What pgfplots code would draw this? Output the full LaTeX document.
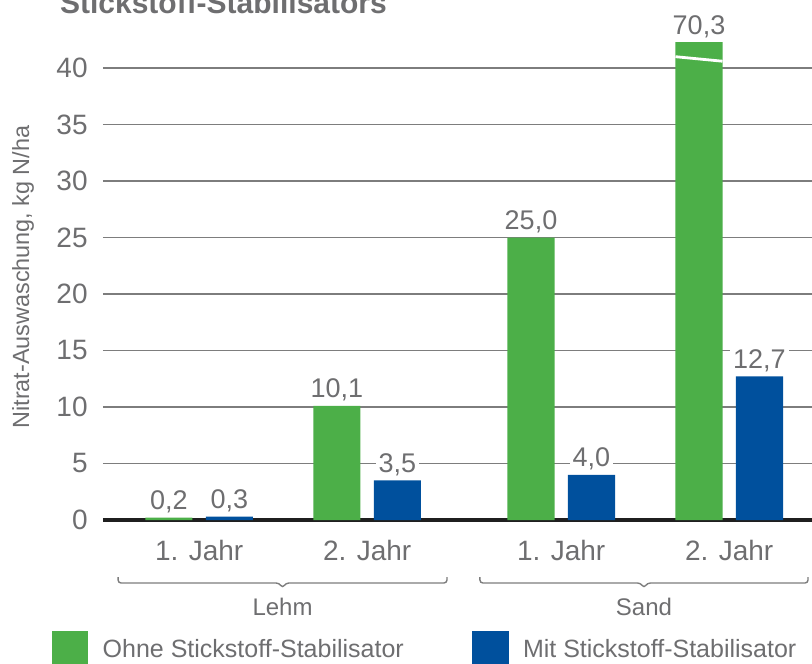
\documentclass[border=0pt]{standalone}
\usepackage{fontspec}
\setmainfont{Liberation Sans}
\usepackage{pgfplots}
\pgfplotsset{compat=1.18}
\definecolor{cgreen}{RGB}{76,175,72}
\definecolor{cblue}{RGB}{0,80,157}
\definecolor{tgray}{RGB}{110,110,112}
\definecolor{ggray}{RGB}{125,125,125}
\begin{document}
\begin{tikzpicture}
\begin{axis}[
  scale only axis, width=358.9pt, height=242.95pt,
  xmin=-0.5726, xmax=3.70, ymin=0, ymax=43,
  ybar, bar width=0.28, bar shift=0pt,
  clip=false,
  separate axis lines, axis x line*=bottom, axis y line*=left,
  x axis line style={draw=black!88, line width=2pt, -},
  y axis line style={draw=none},
  major tick length=0pt,
  ytick={0,5,...,40},
  ymajorgrids, grid style={ggray, line width=0.6pt},
  xtick={0,1,2.155,3.155}, xticklabels={1. Jahr,2. Jahr,1. Jahr,2. Jahr},
  /pgf/number format/assume math mode=true,
  yticklabel style={font=\fontsize{14}{16}\selectfont, text=tgray, inner sep=0pt, anchor=east, xshift=-7.5pt},
  xticklabel style={font=\fontsize{14}{16}\selectfont, text=tgray, inner sep=0pt, anchor=base, yshift=-20pt},
  every axis y label/.style={at={([xshift=-40pt]rel axis cs:0,0.5)}, rotate=90, anchor=center, font=\fontsize{11.7}{14}\selectfont, text=tgray},
  ylabel={Nitrat-Auswaschung, kg N/ha},
  legend image code/.code={\fill[#1] (0pt,-8.5pt) rectangle (18.3pt,9.8pt);},
  legend columns=2, legend cell align=left,
  legend style={at={(rel axis cs:0,0)}, anchor=north west, xshift=-25.65pt, yshift=-55.35pt,
    draw=none, fill=none, inner sep=0pt, outer sep=0pt,
    font=\fontsize{12.5}{15}\selectfont, text=tgray,
    nodes={inner sep=0pt},
    /tikz/every odd column/.append style={column sep=7.2pt},
    /tikz/every even column/.append style={column sep=0pt}},
  nodes near coords style={font=\fontsize{13.5}{16}\selectfont, text=tgray, anchor=base, yshift=4pt, inner ysep=0pt, inner xsep=1.5pt, fill=white},
]
\addplot[fill=cgreen, draw=none, nodes near coords, point meta=explicit symbolic]
  table[x=x, y=y, meta=lab] {
x y lab
-0.18 0.2 0,2
0.82 10.1 10,1
1.975 25.0 25,0
2.975 42.3 70,3
};
\addlegendentry{\makebox[184.65pt][l]{Ohne Stickstoff-Stabilisator}}
\addplot[fill=cblue, draw=none, nodes near coords, point meta=explicit symbolic]
  table[x=x, y=y, meta=lab] {
x y lab
0.18 0.3 0,3
1.18 3.5 3,5
2.335 4.0 4,0
3.335 12.7 12,7
};
\addlegendentry{Mit Stickstoff-Stabilisator}
\addplot[sharp plot, white, line width=1.4pt, forget plot] coordinates {(2.835,41.0) (3.115,40.6)};
\draw[ggray, line width=0.7pt, rounded corners=1.5pt]
  ([yshift=-28.5pt]axis cs:-0.483,0) -- ([yshift=-31.5pt]axis cs:-0.483,0)
  -- ([yshift=-31.5pt]axis cs:0.476,0) -- ([yshift=-34pt]axis cs:0.496,0)
  -- ([yshift=-31.5pt]axis cs:0.516,0) -- ([yshift=-31.5pt]axis cs:1.475,0)
  -- ([yshift=-28.5pt]axis cs:1.475,0);
\draw[ggray, line width=0.7pt, rounded corners=1.5pt]
  ([yshift=-28.5pt]axis cs:1.671,0) -- ([yshift=-31.5pt]axis cs:1.671,0)
  -- ([yshift=-31.5pt]axis cs:2.6275,0) -- ([yshift=-34pt]axis cs:2.6475,0)
  -- ([yshift=-31.5pt]axis cs:2.6675,0) -- ([yshift=-31.5pt]axis cs:3.624,0)
  -- ([yshift=-28.5pt]axis cs:3.624,0);
\node[font=\fontsize{12}{14}\selectfont, text=tgray, anchor=base] at ([yshift=-47.5pt]axis cs:0.496,0) {Lehm};
\node[font=\fontsize{12}{14}\selectfont, text=tgray, anchor=base] at ([yshift=-47.5pt]axis cs:2.6475,0) {Sand};
\coordinate (O) at (rel axis cs:0,0);
\end{axis}
\node[anchor=base west, font=\bfseries\fontsize{15}{18}\selectfont, text=tgray] at ([shift={(-25pt,253pt)}]O) {Stickstoff-Stabilisators};
\pgfresetboundingbox
\path[use as bounding box] ([shift={(-51.5pt,-71.5pt)}]O) rectangle ([shift={(354.5pt,260pt)}]O);
\end{tikzpicture}
\end{document}
